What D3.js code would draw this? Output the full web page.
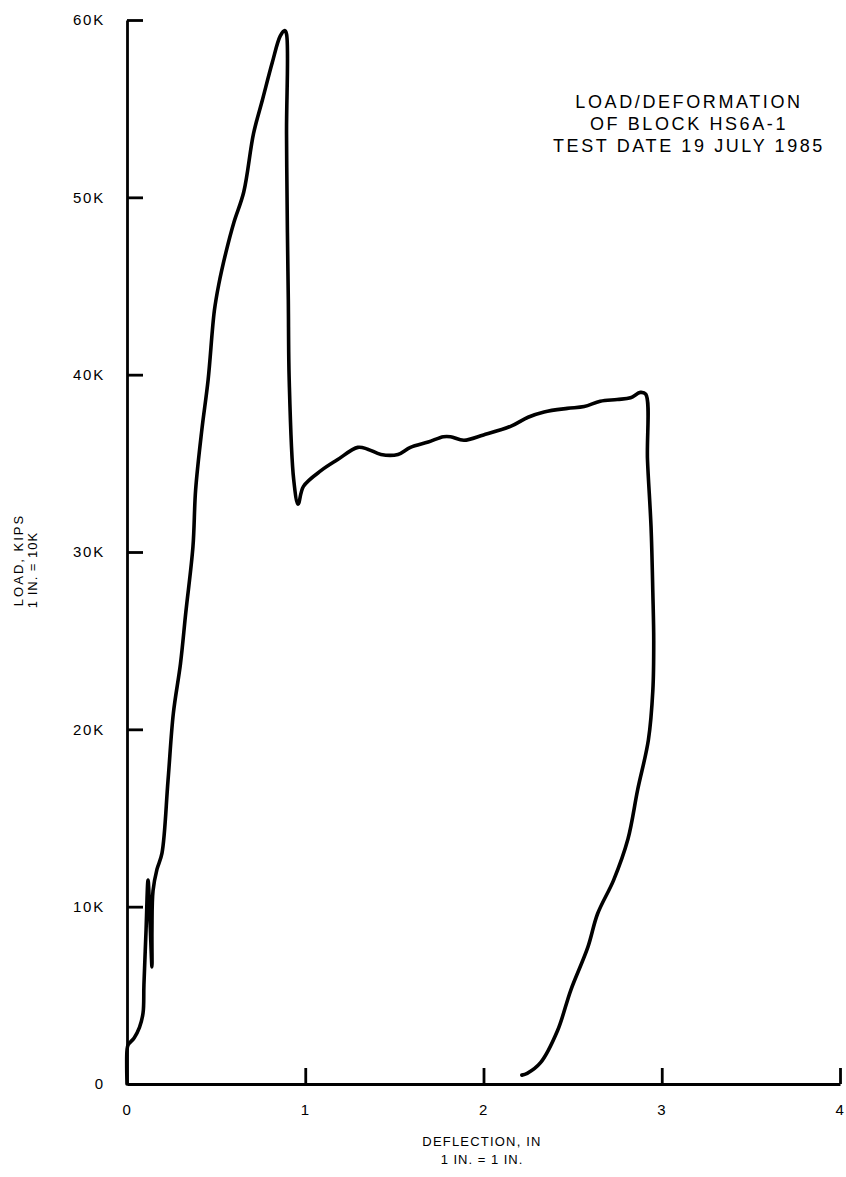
<!DOCTYPE html>
<html>
<head>
<meta charset="utf-8">
<script src="https://cdn.jsdelivr.net/npm/d3@7"></script>
<style>
  body { margin: 0; background: #fff; }
  text { font-family: "Liberation Sans", Arial, sans-serif; fill: #000; }
</style>
</head>
<body>
<script>
let width = 846;
let height = 1177;

// load / deflection trace (inches, kips)
let deflection = [0, 0, 0.006, 0.04, 0.07, 0.09, 0.095, 0.107, 0.118, 0.129, 0.14, 0.14, 0.146, 0.168, 0.196,
	0.23, 0.26, 0.30, 0.33, 0.37, 0.385, 0.42, 0.455, 0.49, 0.515, 0.555, 0.60, 0.655, 0.71, 0.76, 0.815, 0.86, 0.885,
	0.895, 0.895, 0.90, 0.905, 0.91, 0.935, 0.96, 0.99, 1.09, 1.18, 1.295, 1.35, 1.425, 1.52, 1.59, 1.69, 1.775, 1.815,
	1.89, 2.0, 2.155, 2.25, 2.34, 2.47, 2.565, 2.655, 2.75, 2.825, 2.88, 2.91, 2.92, 2.94, 2.95, 2.955, 2.95, 2.925,
	2.865, 2.81, 2.73, 2.64, 2.585, 2.49, 2.415, 2.32, 2.245, 2.215];
let load = [0, 1.9, 2.2, 2.6, 3.2, 4.0, 5.6, 8.7, 11.5, 9.2, 6.6, 8.7, 10.9, 12.1, 13.0,
	17.1, 20.9, 23.7, 26.6, 30.3, 33.5, 36.9, 39.7, 43.6, 45.1, 46.9, 48.6, 50.3, 53.6, 55.5, 57.6, 59.1, 59.4,
	59.2, 53.6, 48.0, 44.2, 39.7, 34.1, 32.7, 33.7, 34.6, 35.2, 35.9, 35.8, 35.5, 35.5, 35.9, 36.2, 36.5, 36.5,
	36.3, 36.6, 37.1, 37.6, 37.9, 38.1, 38.2, 38.5, 38.6, 38.7, 39.0, 38.9, 35.2, 31.4, 27.7, 25.0, 22.2, 19.4,
	16.6, 13.8, 11.5, 9.6, 7.7, 5.3, 3.0, 1.2, 0.6, 0.5];

let xTicks = [0, 1, 2, 3, 4];
let yTicks = [0, 10, 20, 30, 40, 50, 60];
let yTickLabels = ['0', '10K', '20K', '30K', '40K', '50K', '60K'];
let titleLines = ['LOAD/DEFORMATION', 'OF BLOCK HS6A-1', 'TEST DATE 19 JULY 1985'];

let x = d3.scaleLinear().domain([0, 4]).range([127, 840]);
let y = d3.scaleLinear().domain([0, 60]).range([1084, 20]);

let svg = d3.select('body').append('svg')
	.attr('width', width)
	.attr('height', height);

// y axis, ticks pointing into the plot
let yAxis = svg.append('g')
	.attr('transform', 'translate(' + x(0) + ',0)')
	.call(d3.axisLeft(y)
		.tickValues(yTicks)
		.tickFormat((d, i) => yTickLabels[i])
		.tickSize(-16)
		.tickSizeOuter(0)
		.tickPadding(22));

let xAxis = svg.append('g')
	.attr('transform', 'translate(0,' + y(0) + ')')
	.call(d3.axisBottom(x)
		.tickValues(xTicks)
		.tickFormat(d3.format('d'))
		.tickSize(-16)
		.tickSizeOuter(0)
		.tickPadding(20));

svg.selectAll('.domain, .tick line')
	.style('stroke', '#000')
	.style('stroke-width', 2.8);
svg.selectAll('.tick text')
	.style('font-size', '15px')
	.style('letter-spacing', '1.8px')
	.style('fill', '#000');
yAxis.selectAll('.tick').filter(d => d === 0).select('line').remove();
xAxis.selectAll('.tick').filter(d => d === 0).select('line').remove();

// curve
let line = d3.line()
	.x(d => x(d[0]))
	.y(d => y(d[1]))
	.curve(d3.curveCatmullRom.alpha(0.5));

svg.append('path')
	.datum(deflection.map((d, i) => [d, load[i]]))
	.attr('d', line)
	.style('fill', 'none')
	.style('stroke', '#000')
	.style('stroke-width', 3.6)
	.style('stroke-linejoin', 'round')
	.style('stroke-linecap', 'round');

// title block
svg.append('text')
	.attr('x', 689)
	.attr('y', 108)
	.attr('text-anchor', 'middle')
	.style('font-size', '18px')
	.style('letter-spacing', '2.6px')
	.selectAll('tspan')
	.data(titleLines)
	.enter().append('tspan')
	.attr('x', 689)
	.attr('dy', (d, i) => i === 0 ? 0 : 22)
	.text(d => d);

// axis titles
svg.append('text')
	.attr('transform', 'translate(23,560) rotate(-90)')
	.attr('text-anchor', 'middle')
	.style('font-size', '13px')
	.style('letter-spacing', '2px')
	.text('LOAD, KIPS');
svg.append('text')
	.attr('transform', 'translate(37,570) rotate(-90)')
	.attr('text-anchor', 'middle')
	.style('font-size', '13px')
	.style('letter-spacing', '1px')
	.text('1 IN. = 10K');

svg.append('text')
	.attr('x', 482)
	.attr('y', 1146)
	.attr('text-anchor', 'middle')
	.style('font-size', '13px')
	.style('letter-spacing', '1.2px')
	.text('DEFLECTION, IN');
svg.append('text')
	.attr('x', 482)
	.attr('y', 1164)
	.attr('text-anchor', 'middle')
	.style('font-size', '13px')
	.style('letter-spacing', '1px')
	.text('1 IN. = 1 IN.');
</script>
</body>
</html>
